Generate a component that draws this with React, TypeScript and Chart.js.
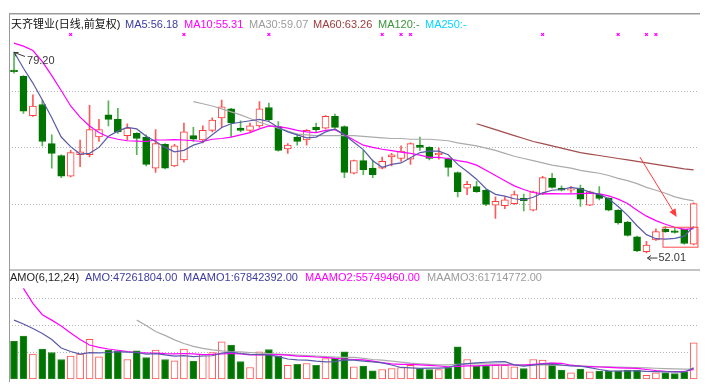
import React, { useEffect, useRef } from "react";
import { Chart, registerables } from "chart.js";

Chart.register(...registerables);

// ---------------- data ----------------
const opens = [
  76.75, 75.9, 70.6, 72.1, 66.8, 65.2, 62.4, 65.3, 65.3, 67.7,
  70.7, 70.1, 67.9, 68.2, 67.7, 63.5, 66.7, 63.8, 64.6, 67.9,
  67.3, 68.6, 70.3, 71.5, 68.9, 68.6, 69.2, 71.7, 69.1, 66.1,
  67.7, 67.3, 69.0, 68.9, 70.5, 69.1, 62.8, 64.5, 63.5, 63.5,
  65.0, 64.8, 64.7, 66.6, 66.3, 65.3, 64.8, 62.9, 60.8, 61.0,
  60.5, 58.5, 58.4, 58.7, 59.4, 57.8, 60.0, 62.1, 60.8, 60.5,
  60.8, 58.5, 60.0, 59.4, 57.8, 56.2, 54.2, 52.2, 53.8, 55.2,
  55.0, 55.2, 53.2,
];
const highs = [
  79.2, 76.0, 73.4, 72.7, 68.0, 65.3, 65.9, 67.3, 72.0, 70.1,
  72.6, 71.6, 69.5, 68.3, 68.0, 68.7, 66.8, 66.7, 69.6, 69.0,
  69.2, 70.3, 72.7, 71.6, 69.9, 69.6, 72.5, 72.3, 69.8, 66.8,
  68.1, 68.7, 69.6, 70.6, 70.8, 69.2, 64.6, 65.9, 64.6, 65.0,
  65.5, 66.5, 66.9, 67.7, 66.4, 66.2, 64.9, 63.0, 61.7, 61.7,
  60.6, 59.6, 59.6, 60.4, 60.0, 60.4, 62.4, 62.8, 61.1, 61.0,
  61.2, 60.4, 61.0, 59.5, 57.9, 56.3, 54.3, 53.6, 55.3, 55.6,
  55.4, 55.3, 58.8,
];
const lows = [
  76.35, 70.9, 70.5, 66.5, 63.5, 62.2, 62.3, 63.7, 65.0, 67.1,
  69.2, 68.2, 67.3, 65.3, 63.8, 62.9, 63.4, 63.7, 64.3, 67.1,
  66.9, 68.4, 69.0, 67.7, 68.4, 68.4, 69.0, 69.9, 65.8, 65.5,
  66.6, 66.6, 68.3, 68.8, 68.9, 62.2, 62.7, 62.6, 62.2, 63.4,
  63.8, 64.4, 64.0, 65.9, 64.6, 64.7, 62.4, 59.6, 59.9, 60.2,
  58.4, 56.7, 58.0, 58.6, 57.7, 57.7, 59.9, 60.8, 60.4, 60.2,
  58.3, 58.4, 59.2, 57.7, 55.9, 54.3, 52.2, 52.01, 53.7, 54.8,
  54.7, 53.2, 53.1,
];
const closes = [
  76.55, 71.2, 71.9, 67.1, 65.5, 62.4, 65.6, 65.7, 68.7, 68.7,
  70.1, 68.4, 68.9, 67.5, 64.0, 66.8, 63.5, 66.5, 68.4, 67.4,
  68.6, 70.0, 71.8, 69.6, 68.6, 69.2, 71.5, 70.0, 65.9, 66.6,
  67.1, 68.6, 68.7, 70.5, 69.0, 62.9, 64.5, 63.3, 62.6, 64.4,
  65.3, 65.8, 66.8, 66.3, 64.8, 65.5, 63.6, 60.3, 61.3, 60.3,
  58.6, 59.0, 59.2, 59.9, 59.1, 60.3, 62.2, 60.9, 60.5, 60.7,
  59.3, 60.3, 59.4, 57.8, 56.1, 54.4, 52.3, 53.1, 54.9, 54.9,
  54.8, 53.3, 58.7,
];

const ma5 = [
  79.2, 77.0, 75.0, 72.7, 70.3, 67.7, 66.4, 65.4, 65.5, 66.3,
  67.8, 68.5, 69.0, 68.8, 67.8, 67.1, 66.3, 65.7, 65.9, 66.6,
  67.0, 68.0, 69.0, 69.5, 69.7, 69.9, 70.1, 69.8, 69.0, 68.4,
  68.0, 67.6, 67.7, 68.4, 68.8, 68.0, 67.0, 66.0, 64.5, 63.6,
  64.0, 64.2, 64.9, 65.6, 65.8, 65.8, 65.3, 64.0, 63.05, 62.0,
  60.7, 59.95, 59.7, 59.35, 59.2, 59.55, 60.15, 60.5, 60.6, 60.9,
  60.7, 60.25, 59.95, 59.35, 58.3, 57.1, 55.7, 54.5, 53.95, 53.9,
  54.0, 54.3, 55.6,
];
const ma10 = [
  80.4, 80.0, 79.4, 77.9, 76.0, 74.0, 71.9, 70.4, 69.2, 68.3,
  67.7, 67.4, 67.2, 67.15, 67.1, 67.3, 67.3, 67.35, 67.3, 67.2,
  67.1, 67.4, 67.5, 67.7, 68.0, 68.3, 68.8, 69.2, 69.1, 68.9,
  68.6, 68.4, 68.3, 68.6, 68.7, 68.0, 67.3, 66.6, 66.3, 66.05,
  65.85, 65.65, 65.5, 65.25, 64.95, 64.95, 64.8, 64.5, 64.3, 63.9,
  63.2, 62.5, 61.8, 61.1, 60.6, 60.2, 60.0, 60.05, 60.0, 60.0,
  60.05, 60.1, 60.0, 59.75, 59.3, 58.7, 57.8, 57.0, 56.4, 55.9,
  55.5, 55.2, 55.3,
];
const nulls = (n: number): null[] => Array(n).fill(null);
const ma30 = [
  ...nulls(19),
  72.5, 72.2, 71.9, 71.5, 71.1, 70.7, 70.2, 69.7, 69.3, 68.9,
  68.5, 68.1, 68.0, 67.9, 67.9, 67.9, 67.9, 67.9, 67.8, 67.7,
  67.6, 67.5, 67.5, 67.4, 67.4, 67.4, 67.3, 67.2, 66.9, 66.7,
  66.5, 66.2, 65.9, 65.5, 65.1, 64.8, 64.5, 64.2, 63.9, 63.7,
  63.5, 63.2, 63.0, 62.8, 62.5, 62.1, 61.8, 61.4, 60.9, 60.5,
  60.1, 59.6, 59.3, 59.07,
];
const ma60 = [
  ...nulls(49),
  69.5, 69.1, 68.7, 68.3, 67.9, 67.5, 67.1, 66.8, 66.5, 66.2,
  65.9, 65.6, 65.4, 65.2, 65.0, 64.8, 64.6, 64.4, 64.2, 64.0,
  63.8, 63.6, 63.4, 63.26,
];

// turnover (millions)
const amounts = [
  49.4, 55.9, 32.6, 39.1, 34.8, 25.8, 30.1, 32.6, 51.6, 29.2,
  37.8, 36.9, 25.8, 36.9, 28.4, 37.8, 25.8, 24.0, 39.1, 23.6,
  32.3, 34.8, 48.5, 44.2, 23.2, 15.5, 35.6, 38.7, 30.1, 18.4,
  19.7, 20.6, 18.4, 27.1, 27.9, 35.6, 16.3, 17.2, 11.1, 12.9,
  14.2, 15.5, 18.1, 14.2, 12.9, 12.9, 15.5, 42.1, 25.8, 17.2,
  17.2, 18.4, 18.4, 16.3, 14.2, 25.8, 24.9, 21.4, 12.0, 8.5,
  13.3, 9.8, 10.7, 10.7, 11.1, 12.0, 12.0, 5.5, 8.5, 8.5,
  7.7, 9.8, 47.3,
];
const maamo1 = [
  76.5, 71.6, 65.8, 59.3, 51.6, 40.6, 36.1, 32.6, 34.6, 34.2,
  34.8, 35.9, 35.2, 34.8, 32.8, 33.3, 31.7, 30.1, 30.7, 29.5,
  30.3, 30.6, 33.9, 35.2, 33.5, 32.3, 32.0, 31.7, 29.5, 26.4,
  25.2, 25.0, 23.6, 22.6, 23.0, 25.3, 25.0, 23.7, 22.6, 21.4,
  18.7, 15.5, 15.1, 14.4, 14.6, 14.6, 15.2, 19.2, 20.5, 21.3,
  22.2, 22.7, 23.0, 18.8, 17.2, 18.4, 19.7, 20.0, 18.7, 17.4,
  17.2, 15.2, 12.9, 11.2, 10.8, 11.1, 11.0, 10.4, 10.2, 9.8,
  9.7, 9.4, 15.0,
];
const maamo2 = [
  null, 117.4, 98.0, 83.5, 76.5, 69.0, 60.0, 51.6, 44.5, 41.3,
  39.3, 37.7, 36.1, 34.8, 34.2, 33.9, 33.3, 33.0, 33.5, 32.9,
  32.0, 32.3, 33.0, 33.5, 33.0, 31.7, 31.7, 31.9, 32.0, 31.5,
  30.2, 29.9, 29.0, 28.4, 27.1, 26.4, 25.8, 25.4, 23.6, 21.7,
  20.1, 19.5, 19.4, 18.8, 18.3, 17.4, 16.4, 16.9, 17.5, 17.5,
  18.1, 18.4, 18.7, 18.7, 18.6, 19.6, 20.4, 21.0, 20.9, 18.4,
  17.3, 16.6, 16.1, 15.5, 15.0, 14.6, 14.3, 12.9, 11.6, 10.6,
  10.2, 10.3, 12.9,
];
const maamo3 = [
  ...nulls(13),
  76.5, 69.7, 61.9, 56.8, 51.0, 46.4, 42.6,
  40.0, 38.2, 36.9, 36.1, 35.6, 34.8, 33.9, 33.3, 32.6, 32.0,
  31.3, 30.7, 30.1, 29.4, 29.0, 28.6, 28.4, 27.1, 25.8, 24.9,
  23.6, 22.3, 21.0, 20.1, 19.4, 18.9, 18.8, 19.6, 20.0, 20.1,
  20.2, 19.8, 19.4, 19.0, 18.8, 18.8, 18.8, 18.6, 18.3, 17.8,
  17.4, 17.0, 16.7, 16.3, 16.0, 15.6, 15.3, 14.9, 14.5, 14.1,
  13.7, 13.3, 13.3,
];

const signalDays = [6, 18, 27, 39, 41, 42, 56, 64, 67, 68];
const days = opens.map((_, i) => `D${i + 1}`);

// legend texts
const priceTitle = "天齐锂业(日线,前复权)";
const priceLegend = [
  { text: "MA5:56.18", color: "#3c3ca0", left: 125 },
  { text: "MA10:55.31", color: "#ff00ff", left: 184 },
  { text: "MA30:59.07", color: "#9c9c9c", left: 249 },
  { text: "MA60:63.26", color: "#a03c3c", left: 313 },
  { text: "MA120:-", color: "#3a963a", left: 378 },
  { text: "MA250:-", color: "#00d8ff", left: 425 },
];
const volLegend = [
  { text: "AMO(6,12,24)", color: "#222222", left: 10 },
  { text: "AMO:47261804.00", color: "#3c3ca0", left: 85 },
  { text: "MAAMO1:67842392.00", color: "#3c3ca0", left: 183 },
  { text: "MAAMO2:55749460.00", color: "#ff00ff", left: 305 },
  { text: "MAAMO3:61714772.00", color: "#9c9c9c", left: 427 },
];

// hand-drawn notes (in data space)
const noteArrow = { fromDay: 66.3, fromPrice: 65.0, toDay: 70.2, toPrice: 56.9 };
const noteBox = { fromDay: 68.75, toDay: 72.45, top: 55.5, bottom: 52.8 };

// scale ranges
const priceMin = 51.0;
const priceMax = 81.57;
const volMax = 138.5;

// ---------------- styles ----------------
const UP = "#ff3b3b";
const UP_WICK = "#ff5a5a";
const DOWN = "#007400";
const DOWN_WICK = "#55b455";
const MA5_C = "#5a5aaa";
const MA10_C = "#ff00ff";
const MA30_C = "#ababab";
const MA60_C = "#a24c4c";
const GRID = "#b4b4b4";
const LATIN = '"Liberation Sans", Arial, sans-serif';
const MIXED = '"Liberation Sans", Arial, "Noto Sans CJK SC", sans-serif';

const evenTicks = (axis: any) => {
  const step = (axis.max - axis.min) / 4;
  axis.ticks = [0, 1, 2, 3, 4].map((k) => ({ value: axis.min + k * step }));
};
const gridColor = (c: any) => (c.index === 0 || c.index === 4 ? "rgba(0,0,0,0)" : GRID);

const priceNotes = {
  id: "priceNotes",
  afterDatasetsDraw(chart: any) {
    const { ctx } = chart;
    const x = chart.scales.x;
    const y = chart.scales.y;
    ctx.save();
    ctx.font = `11px ${LATIN}`;
    ctx.textBaseline = "middle";
    ctx.strokeStyle = "#383838";
    ctx.fillStyle = "#383838";
    ctx.lineWidth = 1;
    // highest
    const hiVal = Math.max(...highs);
    const hiIdx = highs.indexOf(hiVal);
    const hx = x.getPixelForValue(hiIdx);
    const hy = y.getPixelForValue(hiVal);
    ctx.beginPath();
    ctx.moveTo(hx + 0.5, hy + 0.5);
    ctx.lineTo(hx + 11, hy + 4.5);
    ctx.moveTo(hx + 0.5, hy + 0.5);
    ctx.lineTo(hx + 4.5, hy + 0.5);
    ctx.moveTo(hx + 0.5, hy + 0.5);
    ctx.lineTo(hx + 2, hy + 4.5);
    ctx.stroke();
    ctx.fillText(hiVal.toFixed(2), hx + 13, hy + 8.5);
    // lowest
    const loVal = Math.min(...lows);
    const loIdx = lows.indexOf(loVal);
    const lx = x.getPixelForValue(loIdx);
    const ly = y.getPixelForValue(loVal) + 5;
    ctx.beginPath();
    ctx.moveTo(lx + 1, ly);
    ctx.lineTo(lx + 11, ly);
    ctx.moveTo(lx + 4.5, ly - 2.5);
    ctx.lineTo(lx + 1, ly);
    ctx.lineTo(lx + 4.5, ly + 2.5);
    ctx.stroke();
    ctx.fillText(loVal.toFixed(2), lx + 12, ly);
    // red note arrow
    const ax0 = x.getPixelForValue(noteArrow.fromDay);
    const ay0 = y.getPixelForValue(noteArrow.fromPrice);
    const ax1 = x.getPixelForValue(noteArrow.toDay);
    const ay1 = y.getPixelForValue(noteArrow.toPrice);
    const ang = Math.atan2(ay1 - ay0, ax1 - ax0);
    ctx.strokeStyle = "#ff3c3c";
    ctx.fillStyle = "#ff3c3c";
    ctx.beginPath();
    ctx.moveTo(ax0, ay0);
    ctx.lineTo(ax1 - 6 * Math.cos(ang), ay1 - 6 * Math.sin(ang));
    ctx.stroke();
    ctx.beginPath();
    ctx.moveTo(ax1, ay1);
    ctx.lineTo(ax1 - 8 * Math.cos(ang) + 3.5 * Math.sin(ang), ay1 - 8 * Math.sin(ang) - 3.5 * Math.cos(ang));
    ctx.lineTo(ax1 - 8 * Math.cos(ang) - 3.5 * Math.sin(ang), ay1 - 8 * Math.sin(ang) + 3.5 * Math.cos(ang));
    ctx.closePath();
    ctx.fill();
    // red note box
    const bx0 = x.getPixelForValue(noteBox.fromDay);
    const bx1 = x.getPixelForValue(noteBox.toDay);
    const by0 = y.getPixelForValue(noteBox.top);
    const by1 = y.getPixelForValue(noteBox.bottom);
    ctx.strokeStyle = "#ff4a4a";
    ctx.strokeRect(bx0, by0, bx1 - bx0, by1 - by0);
    ctx.restore();
  },
};

export default function App() {
  const priceRef = useRef<HTMLCanvasElement>(null);
  const volRef = useRef<HTMLCanvasElement>(null);

  useEffect(() => {
    const up = closes.map((c, i) => c >= opens[i]);
    const bodies = opens.map((o, i) => [o, closes[i]]);
    const wicks = lows.map((l, i) => [l, highs[i]]);
    const signals = days.map((_, i) => (signalDays.includes(i) ? priceMax : null));

    const lineDs = (label: string, data: any[], color: string) => ({
      type: "line" as const,
      label,
      data,
      borderColor: color,
      borderWidth: 1.2,
      pointRadius: 0,
      tension: 0,
      spanGaps: false,
      order: 0,
    });

    const priceChart = new Chart(priceRef.current as HTMLCanvasElement, {
      type: "bar",
      data: {
        labels: days,
        datasets: [
          lineDs("MA5", ma5, MA5_C),
          lineDs("MA10", ma10, MA10_C),
          lineDs("MA30", ma30, MA30_C),
          lineDs("MA60", ma60, MA60_C),
          {
            type: "line",
            label: "signal",
            data: signals,
            showLine: false,
            pointStyle: "crossRot",
            pointRadius: 2,
            pointBorderColor: "#ff00ff",
            pointBorderWidth: 1.3,
            clip: false,
            order: 0,
          } as any,
          {
            type: "bar",
            label: "body",
            data: bodies,
            backgroundColor: up.map((u) => (u ? "#ffffff" : DOWN)),
            borderColor: up.map((u) => (u ? UP : DOWN)),
            borderWidth: 1,
            borderSkipped: false,
            barThickness: 7,
            grouped: false,
            order: 1,
          } as any,
          {
            type: "bar",
            label: "wick",
            data: wicks,
            backgroundColor: up.map((u) => (u ? UP_WICK : DOWN_WICK)),
            borderWidth: 0,
            barThickness: 1,
            grouped: false,
            order: 2,
          } as any,
        ],
      },
      options: {
        responsive: false,
        animation: false,
        events: [],
        layout: { padding: { left: 9.3, right: 14.6, top: 34.5, bottom: 9.5 } },
        plugins: { legend: { display: false }, tooltip: { enabled: false } },
        scales: {
          x: { type: "category", display: false, offset: true },
          y: {
            min: priceMin,
            max: priceMax,
            ticks: { display: false },
            grid: { drawTicks: false, color: gridColor, lineWidth: 1 },
            border: { display: false, dash: [1, 2] },
            afterBuildTicks: evenTicks,
          },
        },
      } as any,
      plugins: [priceNotes],
    });

    const volChart = new Chart(volRef.current as HTMLCanvasElement, {
      type: "bar",
      data: {
        labels: days,
        datasets: [
          lineDs("MAAMO1", maamo1, MA5_C),
          lineDs("MAAMO2", maamo2, MA10_C),
          lineDs("MAAMO3", maamo3, MA30_C),
          {
            type: "bar",
            label: "AMO",
            data: amounts,
            backgroundColor: up.map((u) => (u ? "#ffffff" : DOWN)),
            borderColor: up.map((u) => (u ? "#ff5050" : "#2a8a2a")),
            borderWidth: 1,
            borderSkipped: false,
            barThickness: 7,
            order: 1,
          } as any,
        ],
      },
      options: {
        responsive: false,
        animation: false,
        events: [],
        layout: { padding: { left: 9.3, right: 14.6, top: 2, bottom: 9.5 } },
        plugins: { legend: { display: false }, tooltip: { enabled: false } },
        scales: {
          x: { type: "category", display: false, offset: true },
          y: {
            min: 0,
            max: volMax,
            ticks: { display: false },
            grid: { drawTicks: false, color: gridColor, lineWidth: 1 },
            border: { display: false, dash: [1, 2] },
            afterBuildTicks: evenTicks,
          },
        },
      } as any,
    });

    return () => {
      priceChart.destroy();
      volChart.destroy();
    };
  }, []);

  const span = (t: string, color: string, left: number, top: number, size = 11, family = LATIN) => (
    <span
      key={t}
      style={{
        position: "absolute",
        left,
        top,
        color,
        fontSize: size,
        lineHeight: "13px",
        fontFamily: family,
        whiteSpace: "nowrap",
      }}
    >
      {t}
    </span>
  );

  return (
    <div
      style={{
        position: "fixed",
        left: 0,
        top: 0,
        width: 713,
        height: 389,
        background: "#ffffff",
        overflow: "hidden",
      }}
    >
      <canvas ref={priceRef} width={713} height={270} style={{ position: "absolute", left: 0, top: 0 }} />
      <canvas ref={volRef} width={713} height={119} style={{ position: "absolute", left: 0, top: 270 }} />
      {/* frame */}
      <div style={{ position: "absolute", left: 10, top: 13, width: 690, height: 1, background: "#9a9a9a" }} />
      <div style={{ position: "absolute", left: 10, top: 14, width: 690, height: 1, background: "#cfcfcf" }} />
      <div style={{ position: "absolute", left: 9, top: 13, width: 1, height: 369, background: "#9a9a9a" }} />
      <div style={{ position: "absolute", left: 10, top: 269, width: 690, height: 2, background: "#c4c4c4" }} />
      {/* legends */}
      {span(priceTitle, "#111111", 11, 18, 11, MIXED)}
      {priceLegend.map((l) => span(l.text, l.color, l.left, 18))}
      {volLegend.map((l) => span(l.text, l.color, l.left, 271))}
    </div>
  );
}
